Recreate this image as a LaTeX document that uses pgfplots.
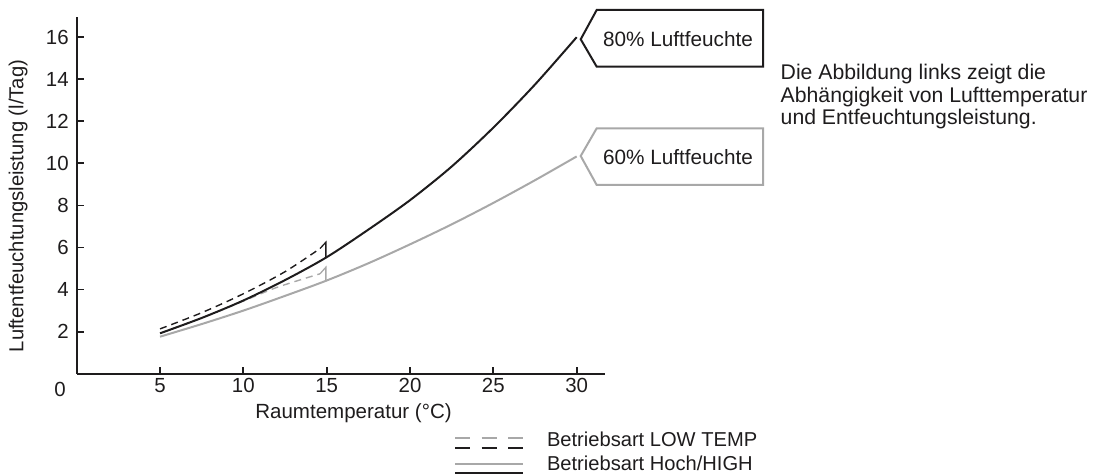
\documentclass[border=0pt]{standalone}
\usepackage{pgfplots}
\pgfplotsset{compat=1.18}
\usepackage{fontspec}
\setmainfont{Liberation Sans}
\definecolor{ink}{RGB}{30,28,29}
\definecolor{lgray}{RGB}{168,168,168}
\begin{document}
\begin{tikzpicture}[x=1bp,y=1bp]
\begin{axis}[
  anchor=origin,
  scale only axis, width=528.3bp, height=356.7bp,
  xmin=0, xmax=31.7, ymin=0, ymax=16.96,
  axis x line*=bottom, axis y line*=left,
  axis line style={line width=2.2bp, ink},
  xtick={5,10,...,30}, ytick={2,4,...,16},
  tick align=inside, major tick length=7bp,
  tick style={line width=1.8bp, ink},
  ticklabel style={font=\fontsize{20.5}{24}\selectfont, text=ink},
  /pgf/number format/assume math mode=true,
  xticklabel style={yshift=-1bp},
  yticklabel style={xshift=-4.5bp},
  clip=false]
\coordinate (O) at (axis cs:0,0);
% LOW TEMP 60% (gray dashed)
\addplot[lgray, line width=1.4bp, dash pattern=on 7bp off 5bp, smooth] coordinates {
 (5,1.92) (7.5,2.65) (10,3.45) (12,4.1) (14.6,4.75)};
\addplot[lgray, line width=1.3bp] coordinates {(14.6,4.75) (14.95,5.06) (14.95,4.43)};
% HIGH 60% (gray solid)
\addplot[lgray, line width=2bp, smooth] coordinates {
 (5,1.76) (7.5,2.36) (10,3.0) (12.5,3.7) (15,4.43) (17.5,5.25) (20,6.15) (22.5,7.1) (25,8.12) (27.5,9.2) (30,10.33)};
% LOW TEMP 80% (black dashed)
\addplot[ink, line width=1.4bp, dash pattern=on 7bp off 5bp, smooth] coordinates {
 (5,2.13) (7.5,2.9) (10,3.8) (12.5,4.85) (14.6,5.95)};
\addplot[ink, line width=1.3bp] coordinates {(14.6,5.95) (14.95,6.25) (14.95,5.54)};
% HIGH 80% (black solid)
\addplot[ink, line width=2bp, smooth] coordinates {
 (5,1.92) (7.5,2.65) (10,3.48) (12.5,4.45) (15,5.54) (17.5,6.85) (20,8.25) (22.5,9.85) (25,11.7) (27.5,13.75) (30,16.0)};
\end{axis}
\begin{scope}[shift={(O)}, shift={(-76.7,-101.3)}]
% origin label
\node[font=\fontsize{20.5}{24}\selectfont, text=ink, anchor=base] at (60,78) {0};
% axis labels
\node[font=\fontsize{20.6}{24}\selectfont, text=ink, anchor=base] at (353.5,56) {Raumtemperatur (°C)};
\node[font=\fontsize{20.3}{24}\selectfont, text=ink, rotate=90, anchor=base] at (23.3,269) {Luftentfeuchtungsleistung (l/Tag)};
% callouts
\draw[ink, line width=2bp, line join=miter] (596.7,465) -- (763,465) -- (763,408.3) -- (596.7,408.3) -- (580.7,435.7) -- cycle;
\node[font=\fontsize{20.8}{24}\selectfont, text=ink, anchor=base] at (678,428) {80\% Luftfeuchte};
\draw[lgray, line width=2bp, line join=miter] (596.7,346.7) -- (763,346.7) -- (763,290) -- (596.7,290) -- (580.7,319) -- cycle;
\node[font=\fontsize{20.8}{24}\selectfont, text=ink, anchor=base] at (678,310) {60\% Luftfeuchte};
% right text
\begin{scope}[every node/.style={font=\fontsize{21.3}{24}\selectfont, text=ink, anchor=base west, inner sep=0pt}]
\node at (780.5,395) {Die Abbildung links zeigt die};
\node at (780.5,372.5) {Abhängigkeit von Lufttemperatur};
\node at (780.5,350) {und Entfeuchtungsleistung.};
\end{scope}
% legend
\draw[lgray, line width=2bp, dash pattern=on 15bp off 11.5bp] (455,36.7) -- (523,36.7);
\draw[ink, line width=2.3bp, dash pattern=on 15bp off 11.5bp] (455,27.3) -- (523,27.3);
\draw[lgray, line width=2.2bp] (455,11) -- (523,11);
\draw[ink, line width=2.4bp] (455,1.7) -- (523,1.7);
\begin{scope}[every node/.style={font=\fontsize{20.2}{24}\selectfont, text=ink, anchor=base west, inner sep=0pt}]
\node at (546.8,28) {Betriebsart LOW TEMP};
\node at (546.8,4) {Betriebsart Hoch/HIGH};
\end{scope}
\pgfresetboundingbox
\path (0,0) rectangle (1103,475);
\end{scope}
\end{tikzpicture}
\end{document}
